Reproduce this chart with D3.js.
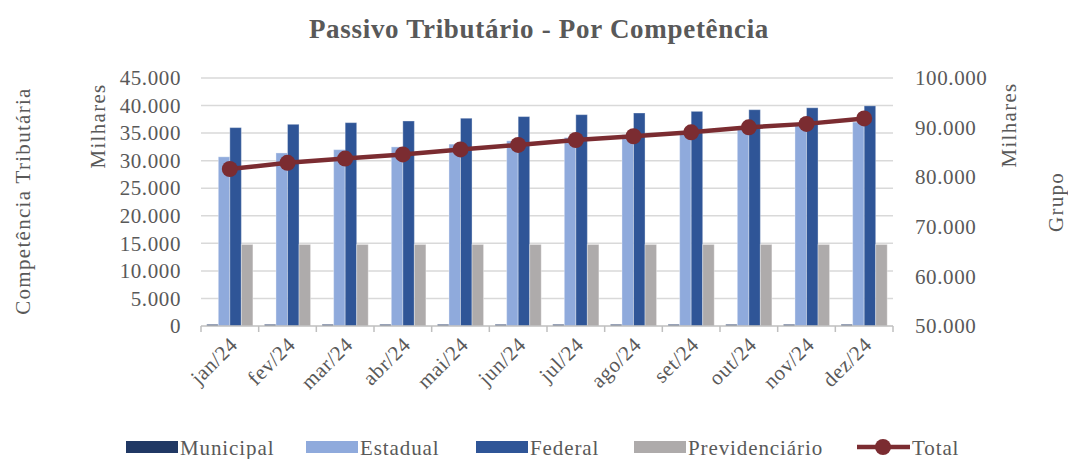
<!DOCTYPE html>
<html>
<head>
<meta charset="utf-8">
<script src="https://cdn.jsdelivr.net/npm/d3@7"></script>
<style>
  body { margin: 0; background: #fff; }
  text { font-family: "Liberation Serif", "DejaVu Serif", serif; fill: #595959; }
</style>
</head>
<body>
<script>
// categorias e séries (valores em milhares)
var months = ["jan/24", "fev/24", "mar/24", "abr/24", "mai/24", "jun/24",
              "jul/24", "ago/24", "set/24", "out/24", "nov/24", "dez/24"];
var municipal = [300, 300, 300, 300, 300, 300, 300, 300, 300, 300, 300, 300];
var estadual = [30700, 31400, 32000, 32500, 33000, 33600, 34200, 34700, 35200, 35900, 36300, 37000];
var federal = [36000, 36600, 36900, 37200, 37700, 38000, 38350, 38650, 38950, 39250, 39600, 39950];
var previdenciario = [14800, 14800, 14800, 14800, 14800, 14800, 14800, 14800, 14800, 14800, 14800, 14800];
var total = [81650, 82900, 83750, 84600, 85600, 86500, 87500, 88250, 89050, 90050, 90750, 91850];
var leftTicks = [0, 5000, 10000, 15000, 20000, 25000, 30000, 35000, 40000, 45000];
var rightTicks = [50000, 60000, 70000, 80000, 90000, 100000];

var seriesNames = ["Municipal", "Estadual", "Federal", "Previdenciário"];
var seriesData = [municipal, estadual, federal, previdenciario];
var colors = ["#203864", "#8faadc", "#2f5597", "#aeabab"];
var lineColor = "#7b2c31";

var W = 1068, H = 459;
var pLeft = 201, pRight = 893, pTop = 78, pBottom = 326;

var loc = d3.formatLocale({decimal: ",", thousands: ".", grouping: [3], currency: ["R$", ""]});
var fmt = loc.format(",.0f");

var svg = d3.select(document.body).append("svg")
  .attr("width", W).attr("height", H);

var x = d3.scaleBand().domain(months).range([pLeft, pRight]).paddingInner(0).paddingOuter(0);
var x1 = d3.scaleBand().domain(seriesNames).range([0, x.bandwidth()]).paddingOuter(0.5).paddingInner(0);
var yL = d3.scaleLinear().domain([0, 45000]).range([pBottom, pTop]);
var yR = d3.scaleLinear().domain([50000, 100000]).range([pBottom, pTop]);

// grid
svg.append("g").selectAll("line").data(leftTicks.slice(1)).join("line")
  .attr("x1", pLeft).attr("x2", pRight)
  .attr("y1", function (d) { return yL(d); }).attr("y2", function (d) { return yL(d); })
  .attr("stroke", "#d9d9d9").attr("stroke-width", 1.5);

// left axis
var gL = svg.append("g").attr("transform", "translate(" + pLeft + ",0)")
  .call(d3.axisLeft(yL).tickValues(leftTicks).tickFormat(fmt).tickSize(0).tickPadding(20));
gL.select(".domain").remove();
gL.selectAll("text").style("font-size", "21px").style("fill", "#595959")
  .style("font-family", "Liberation Serif").attr("letter-spacing", "0.6px");

// right axis
var gR = svg.append("g").attr("transform", "translate(" + pRight + ",0)")
  .call(d3.axisRight(yR).tickValues(rightTicks).tickFormat(fmt).tickSize(0).tickPadding(22));
gR.select(".domain").remove();
gR.selectAll("text").style("font-size", "21px").style("fill", "#595959")
  .style("font-family", "Liberation Serif").attr("letter-spacing", "0.6px");

// bars
var groups = svg.append("g").selectAll("g").data(months).join("g")
  .attr("transform", function (d) { return "translate(" + x(d) + ",0)"; });
groups.selectAll("rect").data(function (d, i) {
    return seriesNames.map(function (s, k) { return {s: s, k: k, v: seriesData[k][i]}; });
  }).join("rect")
  .attr("x", function (d) { return x1(d.s); })
  .attr("width", x1.bandwidth())
  .attr("y", function (d) { return yL(d.v); })
  .attr("height", function (d) { return pBottom - yL(d.v); })
  .attr("fill", function (d) { return colors[d.k]; })
  .attr("stroke", "rgba(255,255,255,0.35)").attr("stroke-width", 1);

// bottom axis
var gX = svg.append("g").attr("transform", "translate(0," + pBottom + ")");
gX.append("line").attr("x1", pLeft).attr("x2", pRight).attr("stroke", "#bfbfbf").attr("stroke-width", 1.5);
gX.selectAll("line.tk").data(months.concat(["end"])).join("line").attr("class", "tk")
  .attr("x1", function (d, i) { return pLeft + i * x.bandwidth(); })
  .attr("x2", function (d, i) { return pLeft + i * x.bandwidth(); })
  .attr("y1", 0).attr("y2", 6).attr("stroke", "#bfbfbf").attr("stroke-width", 1.5);
svg.append("g").selectAll("text").data(months).join("text")
  .attr("transform", function (d) {
    return "translate(" + (x(d) + x.bandwidth() / 2 + 9) + "," + (pBottom + 20) + ") rotate(-45)";
  })
  .attr("text-anchor", "end").style("font-size", "21px").attr("letter-spacing", "0.6px")
  .text(function (d) { return d; });

// total line
var line = d3.line().x(function (d, i) { return x(months[i]) + x.bandwidth() / 2; })
  .y(function (d) { return yR(d); });
svg.append("path").datum(total).attr("d", line)
  .attr("fill", "none").attr("stroke", lineColor).attr("stroke-width", 4.5);
svg.append("g").selectAll("circle").data(total).join("circle")
  .attr("cx", function (d, i) { return x(months[i]) + x.bandwidth() / 2; })
  .attr("cy", function (d) { return yR(d); })
  .attr("r", 8).attr("fill", lineColor);

// title
svg.append("text").attr("x", 539).attr("y", 38).attr("text-anchor", "middle")
  .style("font-size", "27px").style("font-weight", "bold").attr("letter-spacing", "0.7px")
  .text("Passivo Tributário - Por Competência");

// axis titles
function vtext(tx, ty, str) {
  svg.append("text").attr("transform", "translate(" + tx + "," + ty + ") rotate(-90)")
    .attr("text-anchor", "middle").style("font-size", "21px").attr("letter-spacing", "1.3px")
    .text(str);
}
vtext(30, 201, "Competência  Tributária");
vtext(105, 126, "Milhares");
vtext(1016, 125, "Milhares");
vtext(1063, 202, "Grupo");

// legend
var legX = [126, 306, 476, 634];
var lg = svg.append("g");
seriesNames.forEach(function (s, k) {
  lg.append("rect").attr("x", legX[k]).attr("y", 441).attr("width", 52).attr("height", 12)
    .attr("fill", colors[k]);
  lg.append("text").attr("x", legX[k] + 54).attr("y", 455).style("font-size", "21px")
    .attr("letter-spacing", "0.9px").text(s);
});
lg.append("line").attr("x1", 857).attr("x2", 910).attr("y1", 447).attr("y2", 447)
  .attr("stroke", lineColor).attr("stroke-width", 4.5);
lg.append("circle").attr("cx", 883).attr("cy", 447).attr("r", 8).attr("fill", lineColor);
lg.append("text").attr("x", 912).attr("y", 455).style("font-size", "21px")
  .attr("letter-spacing", "0.9px").text("Total");
</script>
</body>
</html>
